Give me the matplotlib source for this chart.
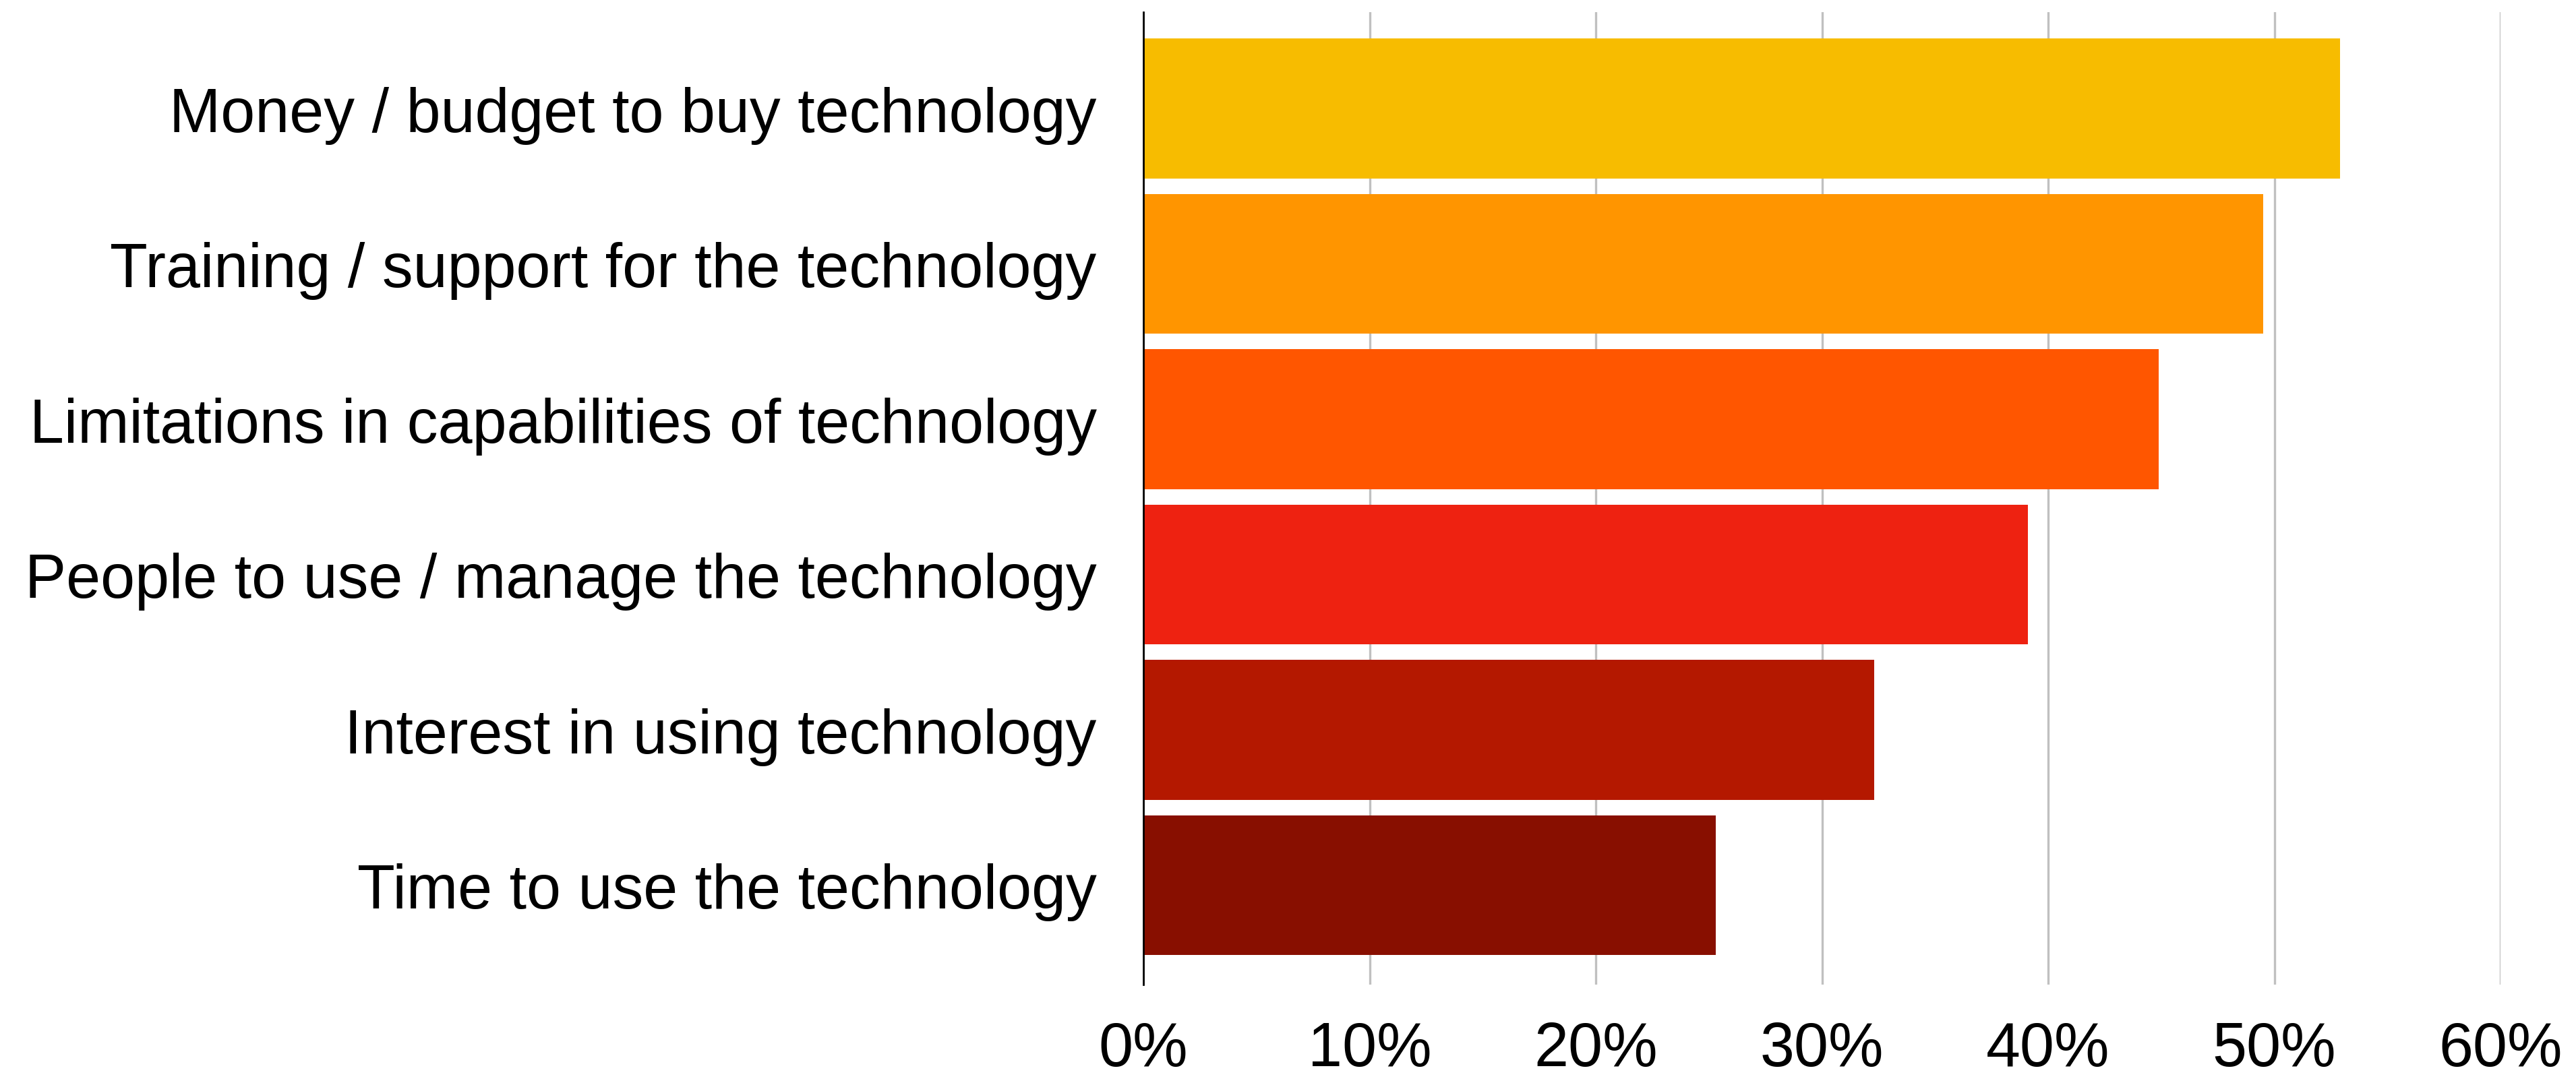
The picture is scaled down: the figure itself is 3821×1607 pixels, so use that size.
import matplotlib.pyplot as plt
from matplotlib.ticker import FuncFormatter

# barriers to adopting technology, share of respondents (%)
categories = [
    "Money / budget to buy technology",
    "Training / support for the technology",
    "Limitations in capabilities of technology",
    "People to use / manage the technology",
    "Interest in using technology",
    "Time to use the technology",
]
shares = [52.9, 49.5, 44.9, 39.1, 32.3, 25.3]
bar_colors = ["#F7BC00", "#FF9500", "#FF5600", "#EE2211", "#B41800", "#880F00"]
x_ticks = [0, 10, 20, 30, 40, 50, 60]

plt.rcParams['font.family'] = ['Liberation Sans', 'DejaVu Sans']

fig = plt.figure(figsize=(38.21, 16.08), dpi=100)
ax = fig.add_axes([0.4439, 0.0908, 0.9707 - 0.4439, 0.988 - 0.0908])

pos = list(range(len(categories)))
ax.barh(pos, shares, height=0.9, color=bar_colors, zorder=3)

ax.set_xlim(0, 60)
ax.set_ylim(5.64, -0.62)
ax.set_xticks(x_ticks)
ax.xaxis.set_major_formatter(FuncFormatter(lambda v, p: "%d%%" % v))
ax.set_yticks(pos)
ax.set_yticklabels(categories)

ax.tick_params(axis='x', length=0, pad=38, labelsize=66)
ax.tick_params(axis='y', length=0, pad=50, labelsize=66)

ax.grid(axis='x', color='#C0C0C0', linewidth=2.4, zorder=0)
for side in ['top', 'right', 'bottom']:
    ax.spines[side].set_visible(False)
ax.spines['left'].set_linewidth(2)
ax.spines['left'].set_color('black')
ax.spines['left'].set_zorder(4)

fig.savefig("out.png", dpi=100, facecolor='white')
